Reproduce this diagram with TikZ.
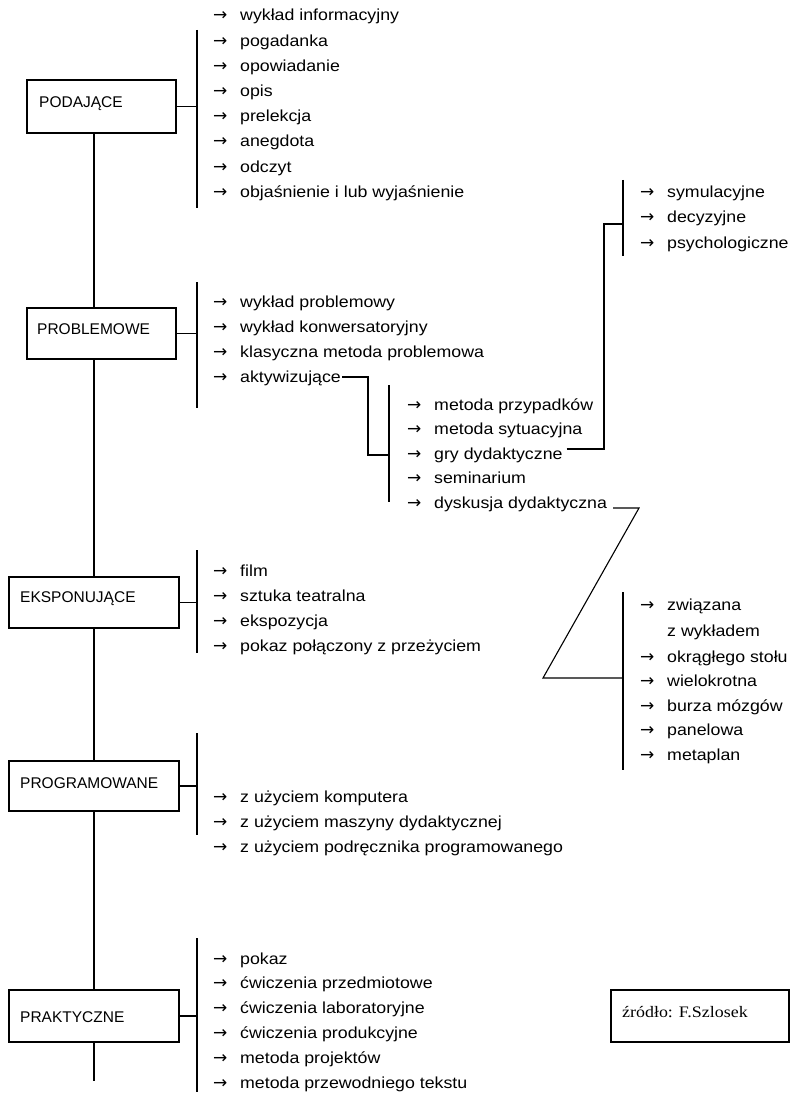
\documentclass[tikz,border=0pt]{standalone}
\usepackage{fontspec}
\setmainfont{Liberation Sans}
\newfontfamily\listfont{Liberation Sans}[FakeStretch=1.11]
\newfontfamily\srcfont{Liberation Serif}[FakeStretch=1.12]
\newfontfamily\arrowfont{DejaVu Sans}
\usetikzlibrary{calc}
\newcommand\itemarrow{\makebox[27pt][l]{\arrowfont\fontsize{17}{20}\selectfont →}}
\newcommand\noarrow{\makebox[27pt][l]{}}
\tikzset{
  conn/.style={line width=1.1pt, black},
  catbox/.style={draw, line width=1.4pt, inner sep=0pt},
  catlabel/.style={anchor=base west, inner sep=0pt, font=\fontsize{15.5}{18}\selectfont},
  listitem/.style={anchor=base west, inner sep=0pt, font=\listfont\fontsize{16}{20}\selectfont},
  srclabel/.style={anchor=base west, inner sep=0pt, font=\srcfont\fontsize{16}{20}\selectfont},
}
\begin{document}
\begin{tikzpicture}[x=1pt,y=-1pt]
\fill[white] (0,0) rectangle (791,1094);
\useasboundingbox (0,0) rectangle (791,1094);

% category boxes
\node[catbox, minimum width=149pt, minimum height=53pt] (pod)  at (101.5,106.5) {};
\node[catbox, minimum width=149pt, minimum height=51pt] (prob) at (101.5,333.5) {};
\node[catbox, minimum width=170pt, minimum height=51pt] (eksp) at (94,602.5) {};
\node[catbox, minimum width=170pt, minimum height=50pt] (prog) at (94,786) {};
\node[catbox, minimum width=170pt, minimum height=52pt] (prak) at (94,1016) {};
\node[catbox, minimum width=178pt, minimum height=52pt] (src)  at (700,1016) {};

\node[catlabel] (podL)  at (39,107.5) {PODAJĄCE};
\node[catlabel] (probL) at (37,334.5) {PROBLEMOWE};
\node[catlabel] (ekspL) at (20,602.5) {EKSPONUJĄCE};
\node[catlabel] (progL) at (20,788.5) {PROGRAMOWANE};
\node[catlabel] (prakL) at (20,1022) {PRAKTYCZNE};
\node[srclabel] (srcL)  at (622,1017) {źródło: F.Szlosek};

% spine
\coordinate (sp) at (94,0);
\coordinate (spend) at (94,1081);
\draw[conn] (pod.south -| sp) -- (prob.north -| sp);
\draw[conn] (prob.south -| sp) -- (eksp.north -| sp);
\draw[conn] (eksp.south -| sp) -- (prog.north -| sp);
\draw[conn] (prog.south -| sp) -- (prak.north -| sp);
\draw[conn] (prak.south -| sp) -- (spend);

% brackets
\coordinate (bA1) at (197,30);  \coordinate (bA2) at (197,208);
\coordinate (bB1) at (197,282); \coordinate (bB2) at (197,408);
\coordinate (bC1) at (389,385); \coordinate (bC2) at (389,502);
\coordinate (bD1) at (623,180); \coordinate (bD2) at (623,256);
\coordinate (bE1) at (623,592); \coordinate (bE2) at (623,770);
\coordinate (bF1) at (197,550); \coordinate (bF2) at (197,653);
\coordinate (bG1) at (197,733); \coordinate (bG2) at (197,835);
\coordinate (bH1) at (197,938); \coordinate (bH2) at (197,1092);
\foreach \b in {A,B,C,D,E,F,G,H} \draw[conn] (b\b1) -- (b\b2);

% box to bracket connectors
\draw[conn] (pod.east)  -- (pod.east -| bA1);
\draw[conn] (prob.east) -- (prob.east -| bB1);
\draw[conn] (eksp.east) -- (eksp.east -| bF1);
\draw[conn] (prog.east) -- (prog.east -| bG1);
\draw[conn] (prak.east) -- (prak.east -| bH1);

% list A: podajace
\foreach \t [count=\i] in {wykład informacyjny, pogadanka, opowiadanie, opis, prelekcja, anegdota, odczyt, objaśnienie i lub wyjaśnienie}
  \node[listitem] (a\i) at (213,{21+25.2*(\i-1)}) {\itemarrow\t};

% list B: problemowe
\foreach \t [count=\i] in {wykład problemowy, wykład konwersatoryjny, klasyczna metoda problemowa, aktywizujące}
  \node[listitem] (b\i) at (213,{307+25*(\i-1)}) {\itemarrow\t};

% list C: aktywizujace
\foreach \t [count=\i] in {metoda przypadków, metoda sytuacyjna, gry dydaktyczne, seminarium, dyskusja dydaktyczna}
  \node[listitem] (c\i) at (407,{410+24.5*(\i-1)}) {\itemarrow\t};

% list D: gry
\foreach \t [count=\i] in {symulacyjne, decyzyjne, psychologiczne}
  \node[listitem] (d\i) at (640,{197+25.5*(\i-1)}) {\itemarrow\t};

% list E: dyskusja
\node[listitem] (e1) at (640,610) {\itemarrow związana};
\node[listitem] (e2) at (640,636) {\noarrow z wykładem};
\foreach \t [count=\i from 3] in {okrągłego stołu, wielokrotna, burza mózgów, panelowa, metaplan}
  \node[listitem] (e\i) at (640,{662+24.6*(\i-3)}) {\itemarrow\t};

% list F: eksponujace
\foreach \t [count=\i] in {film, sztuka teatralna, ekspozycja, pokaz połączony z przeżyciem}
  \node[listitem] (f\i) at (213,{576+25.3*(\i-1)}) {\itemarrow\t};

% list G: programowane
\foreach \t [count=\i] in {z użyciem komputera, z użyciem maszyny dydaktycznej, z użyciem podręcznika programowanego}
  \node[listitem] (g\i) at (213,{802+25*(\i-1)}) {\itemarrow\t};

% list H: praktyczne
\foreach \t [count=\i] in {pokaz, ćwiczenia przedmiotowe, ćwiczenia laboratoryjne, ćwiczenia produkcyjne, metoda projektów, metoda przewodniego tekstu}
  \node[listitem] (h\i) at (213,{964+24.8*(\i-1)}) {\itemarrow\t};

% sub-branch connectors
\coordinate (kA) at (368,455);
\draw[conn] ($(b4.base east)+(1,-5)$) -| (kA) -- (kA -| bC1);
\coordinate (kB) at (604,224);
\draw[conn] ($(c3.base east)+(4,-10)$) -| (kB) -- (kB -| bD1);
\coordinate (kC) at (639,0);
\coordinate (kD) at (543,678);
\coordinate (dst) at ($(c5.base east)+(6,0)$);
\draw[conn] (dst) -- (dst -| kC) -- (kD) -- (kD -| bE1);
\end{tikzpicture}
\end{document}
